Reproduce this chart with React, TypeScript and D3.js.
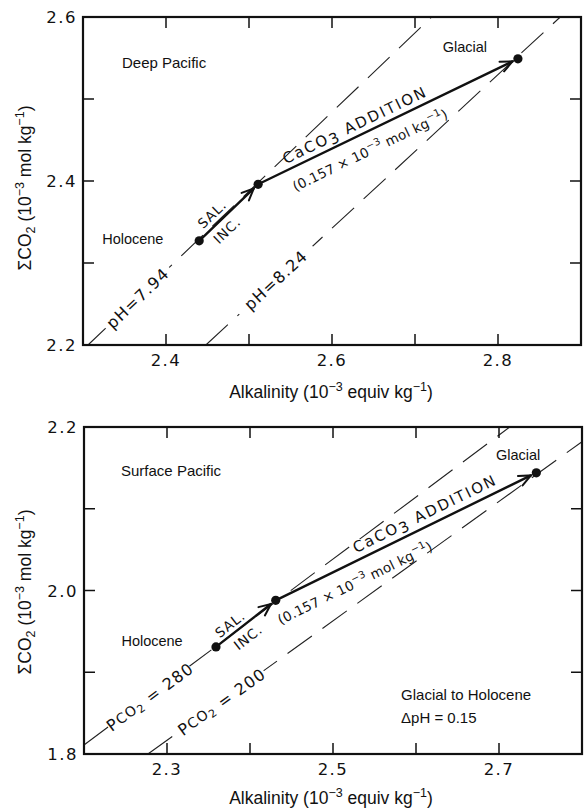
import React from 'react';
import * as d3 from 'd3';

// ---------- data ----------
const deepXTicks = [2.3, 2.4, 2.5, 2.6, 2.7, 2.8, 2.9];
const deepXLabels = [2.4, 2.6, 2.8];
const deepYTicks = [2.2, 2.3, 2.4, 2.5, 2.6];
const deepYLabels = [2.2, 2.4, 2.6];

const surfXTicks = [2.2, 2.3, 2.4, 2.5, 2.6, 2.7, 2.8];
const surfXLabels = [2.3, 2.5, 2.7];
const surfYTicks = [1.8, 1.9, 2.0, 2.1, 2.2];
const surfYLabels = [1.8, 2.0, 2.2];

// states: Holocene, after salinity increase, Glacial
const deepAlk = [2.44, 2.511, 2.824];
const deepCO2 = [2.327, 2.396, 2.549];
const surfAlk = [2.359, 2.431, 2.745];
const surfCO2 = [1.931, 1.988, 2.144];

// isolines [alk0, co2_0, alk1, co2_1]
const deepIsolines = [
  { label: 'pH=7.94', seg: [2.306, 2.2, 2.72, 2.6], at: [2.366, 2.257], gap: 88 },
  { label: 'pH=8.24', seg: [2.448, 2.2, 2.875, 2.6], at: [2.5325, 2.279], gap: 100 },
];
const surfIsolines = [
  { label: 'PCO2=280', seg: [2.2, 1.811, 2.713, 2.2], at: [2.2795, 1.870], gap: 100 },
  { label: 'PCO2=200', seg: [2.277, 1.8, 2.8, 2.182], at: [2.366, 1.864], gap: 104 },
];

const deepText = {
  title: 'Deep Pacific', titleAt: [2.347, 2.544],
  holoAt: [2.36, 2.329], glacAt: [2.760, 2.5634],
  salAt: [2.4554, 2.3598], incAt: [2.4735, 2.340],
  cacoAt: [2.6277, 2.468], amtAt: [2.6458, 2.4378],
};
const surfText = {
  title: 'Surface Pacific', titleAt: [2.2446, 2.1464],
  holoAt: [2.282, 1.938], glacAt: [2.723, 2.166],
  salAt: [2.3759, 1.959], incAt: [2.3976, 1.943],
  cacoAt: [2.6108, 2.0938], amtAt: [2.5265, 2.0093],
};

const LETTER = "'DejaVu Sans', sans-serif";
const SANS = "'Liberation Sans', Arial, sans-serif";

function AxisTitleX({ x, y }: any) {
  return (
    <text x={x} y={y} textAnchor="middle" fontFamily={SANS} fontSize={17.5} fill="#111">
      Alkalinity (10<tspan dy={-7} fontSize={12.5}>−3</tspan><tspan dy={7}> equiv kg</tspan>
      <tspan dy={-7} fontSize={12.5}>−1</tspan><tspan dy={7}>)</tspan>
    </text>
  );
}

function AxisTitleY({ x, y }: any) {
  return (
    <text transform={`translate(${x},${y}) rotate(-90)`} textAnchor="middle" fontFamily={SANS} fontSize={17.5} fill="#111">
      ΣCO<tspan dy={4} fontSize={12.5}>2</tspan><tspan dy={-4}> (10</tspan>
      <tspan dy={-7} fontSize={12.5}>−3</tspan><tspan dy={7}> mol kg</tspan>
      <tspan dy={-7} fontSize={12.5}>−1</tspan><tspan dy={7}>)</tspan>
    </text>
  );
}

function Panel(props: any) {
  const { box, xDomain, yDomain, xTicks, xLabels, yTicks, yLabels, alk, co2, isolines, txt } = props;
  const [x0, y0, x1, y1] = box;
  const x = d3.scaleLinear().domain(xDomain).range([x0, x1]);
  const y = d3.scaleLinear().domain(yDomain).range([y1, y0]);
  const T = 11;
  const pts = alk.map((a: number, i: number) => [x(a), y(co2[i])]);
  const fmt = d3.format('.1f');

  const arrow = (p: number[], q: number[], key: string) => {
    const dx = q[0] - p[0], dy = q[1] - p[1];
    const L = Math.hypot(dx, dy);
    const ux = dx / L, uy = dy / L;
    const tip = [q[0] - ux * 6, q[1] - uy * 6];
    const head = (s: number) => {
      const a = Math.atan2(uy, ux) + Math.PI + s * (24 * Math.PI / 180);
      return [tip[0] + 13 * Math.cos(a), tip[1] + 13 * Math.sin(a)];
    };
    const h1 = head(1), h2 = head(-1);
    return (
      <g key={key} stroke="#111" strokeWidth={2.4} fill="none" strokeLinecap="round">
        <line x1={p[0]} y1={p[1]} x2={tip[0]} y2={tip[1]} />
        <polyline points={`${h1[0]},${h1[1]} ${tip[0]},${tip[1]} ${h2[0]},${h2[1]}`} strokeWidth={2} />
      </g>
    );
  };
  const ang = (p: number[], q: number[]) => Math.atan2(q[1] - p[1], q[0] - p[0]) * 180 / Math.PI;
  const a1 = ang(pts[0], pts[1]);
  const a2 = ang(pts[1], pts[2]);

  const rotText = (at: number[], angle: number, content: any, opts: any = {}) => (
    <g transform={`translate(${x(at[0])},${y(at[1])}) rotate(${angle})`}>
      {opts.gap ? <rect x={-opts.gap / 2} y={-4} width={opts.gap} height={8} fill="#fff" /> : null}
      <text textAnchor="middle"
        dominantBaseline="central" fontFamily={LETTER} fontSize={opts.size || 14} fill="#111"
        letterSpacing={opts.ls || 0}>
        {content}
      </text>
    </g>
  );

  const isoLabel = (label: string) => {
    if (label.startsWith('PCO2')) {
      return (<>P<tspan fontSize={14}>CO</tspan><tspan dy={4} fontSize={11}>2</tspan><tspan dy={-4}> = {label.split('=')[1]}</tspan></>);
    }
    return label;
  };

  return (
    <g>
      {/* isolines */}
      {isolines.map((iso: any, i: number) => {
        const [ax, ay, bx, by] = iso.seg;
        const a = ang([x(ax), y(ay)], [x(bx), y(by)]);
        return (
          <g key={'iso' + i}>
            <line x1={x(ax)} y1={y(ay)} x2={x(bx)} y2={y(by)} stroke="#222" strokeWidth={1.1} strokeDasharray="30 13" />
            {rotText(iso.at, a, isoLabel(iso.label), { size: 16, ls: 1.2, gap: iso.gap })}
          </g>
        );
      })}
      {/* frame */}
      <rect x={x0} y={y0} width={x1 - x0} height={y1 - y0} fill="none" stroke="#111" strokeWidth={2.2} />
      {xTicks.map((t: number) => (
        <g key={'xt' + t} stroke="#111" strokeWidth={1.5}>
          <line x1={x(t)} x2={x(t)} y1={y1} y2={y1 - T} />
          <line x1={x(t)} x2={x(t)} y1={y0} y2={y0 + T} />
        </g>
      ))}
      {yTicks.map((t: number) => (
        <g key={'yt' + t} stroke="#111" strokeWidth={1.5}>
          <line x1={x0} x2={x0 + T} y1={y(t)} y2={y(t)} />
          <line x1={x1} x2={x1 - T} y1={y(t)} y2={y(t)} />
        </g>
      ))}
      {xLabels.map((t: number) => (
        <text key={'xl' + t} x={x(t)} y={y1 + 21} textAnchor="middle" fontFamily={LETTER}
          fontSize={16.5} letterSpacing={1.5} fill="#111">{fmt(t)}</text>
      ))}
      {yLabels.map((t: number) => (
        <text key={'yl' + t} x={x0 - 6} y={y(t) + 6} textAnchor="end" fontFamily={LETTER}
          fontSize={16.5} letterSpacing={1.5} fill="#111">{fmt(t)}</text>
      ))}
      {/* arrows */}
      {arrow(pts[0], pts[1], 'a1')}
      {arrow(pts[1], pts[2], 'a2')}
      {pts.map((p: number[], i: number) => <circle key={'p' + i} cx={p[0]} cy={p[1]} r={4.6} fill="#111" />)}
      {/* arrow labels */}
      {rotText(txt.salAt, a1, 'SAL.', { size: 13.5, ls: 1 })}
      {rotText(txt.incAt, a1, 'INC.', { size: 13.5, ls: 1 })}
      {rotText(txt.cacoAt, a2, (<>CaCO<tspan dy={3}>3</tspan><tspan dy={-3}> ADDITION</tspan></>), { size: 15, ls: 2 })}
      {rotText(txt.amtAt, a2, (<>(0.157 × 10<tspan dy={-5} fontSize={10}>−3</tspan><tspan dy={5}> mol kg</tspan><tspan dy={-5} fontSize={10}>−1</tspan><tspan dy={5}>)</tspan></>), { size: 13.5, ls: 0.2 })}
      {/* state labels */}
      <text x={x(txt.titleAt[0])} y={y(txt.titleAt[1])} dominantBaseline="central" fontFamily={SANS} fontSize={15} fill="#111">{txt.title}</text>
      <text x={x(txt.holoAt[0])} y={y(txt.holoAt[1])} dominantBaseline="central" textAnchor="middle" fontFamily={SANS} fontSize={14.5} fill="#111">Holocene</text>
      <text x={x(txt.glacAt[0])} y={y(txt.glacAt[1])} dominantBaseline="central" textAnchor="middle" fontFamily={SANS} fontSize={14.5} fill="#111">Glacial</text>
      {props.children}
    </g>
  );
}

export default function App() {
  const boxTop = [83, 17, 581, 345];
  const boxBot = [84, 427, 582, 754];
  const ySurf = d3.scaleLinear().domain([1.8, 2.2]).range([754, 427]);
  const xSurf = d3.scaleLinear().domain([2.2, 2.8]).range([84, 582]);
  return (
    <div style={{ position: 'absolute', left: 0, top: 0 }}>
      <svg width={585} height={808} style={{ display: 'block', background: '#fff' }}>
        <Panel box={boxTop} xDomain={[2.3, 2.9]} yDomain={[2.2, 2.6]} xTicks={deepXTicks} xLabels={deepXLabels}
          yTicks={deepYTicks} yLabels={deepYLabels} alk={deepAlk} co2={deepCO2} isolines={deepIsolines} txt={deepText} />
        <AxisTitleX x={331} y={398} />
        <AxisTitleY x={31} y={188} />
        <Panel box={boxBot} xDomain={[2.2, 2.8]} yDomain={[1.8, 2.2]} xTicks={surfXTicks} xLabels={surfXLabels}
          yTicks={surfYTicks} yLabels={surfYLabels} alk={surfAlk} co2={surfCO2} isolines={surfIsolines} txt={surfText}>
          <text x={xSurf(2.582)} y={ySurf(1.873)} dominantBaseline="central" fontFamily={SANS} fontSize={15} fill="#111">Glacial to Holocene</text>
          <text x={xSurf(2.582)} y={ySurf(1.845)} dominantBaseline="central" fontFamily={SANS} fontSize={15} fill="#111">ΔpH = 0.15</text>
        </Panel>
        <AxisTitleX x={331} y={804} />
        <AxisTitleY x={31} y={592} />
      </svg>
    </div>
  );
}
